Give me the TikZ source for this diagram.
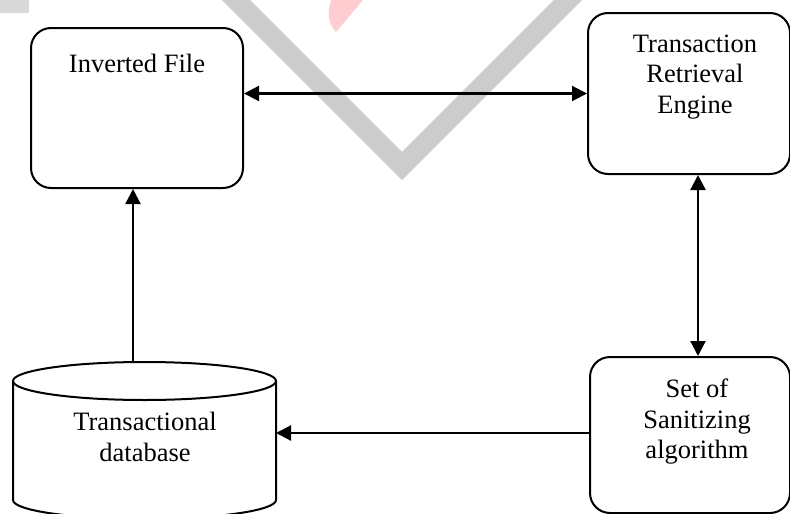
\documentclass[tikz,border=0pt]{standalone}
\usepackage{fontspec}
\setmainfont{Liberation Serif}
\usetikzlibrary{arrows.meta}
\definecolor{wmgray}{HTML}{CCCCCC}
\definecolor{wmlight}{HTML}{D9D9D9}
\definecolor{wmred}{HTML}{FFCCD0}
\begin{document}
\begin{tikzpicture}[x=1pt,y=-1pt,
  box/.style={draw, line width=2pt, rounded corners=20pt, inner sep=0pt},
  lbl/.style={font=\fontsize{26.5}{30.5}\selectfont, align=center, inner sep=0pt},
  tipa/.tip={Triangle[length=15pt,width=15pt]},
  conn/.style={line width=2.2pt, -tipa},
  dconn/.style={line width=2.2pt, tipa-tipa},
  outline/.style={line width=2pt}]
\useasboundingbox (0,0) rectangle (790,514);
% watermark
\fill[wmlight] (0,0) rectangle (29,13);
\draw[wmgray, line width=20pt, line join=miter] (226,-10) -- (402,166) -- (578,-10);
\fill[wmred] (331,0) -- (363,0) -- (336,32) .. controls (330,26) and (328,18) .. (329,8) -- cycle;
% boxes
\node[box, minimum width=212pt, minimum height=160pt] (inv) at (137,108) {};
\node[lbl] (invt) at (137,63) {Inverted File};
\node[box, minimum width=202pt, minimum height=161pt] (tre) at (689,93.5) {};
\node[lbl] (tret) at (695,77) {Transaction\\Retrieval\\Engine};
\node[box, minimum width=200pt, minimum height=156pt] (san) at (690,435) {};
\node[lbl] (sant) at (697,422) {Set of\\Sanitizing\\algorithm};
% cylinder
\draw[outline] (144.5,381) ellipse [x radius=131.5, y radius=19];
\draw[outline] (13,381) -- (13,500) arc[start angle=180, end angle=0, x radius=131.5, y radius=19] -- (276,381);
\node[lbl] (cylt) at (145,437) {Transactional\\database};
% connectors
\coordinate (vx) at (698,0);
\coordinate (cylright) at (276,433);
\coordinate (cyltop) at (133,362);
\draw[dconn] (inv.east |- tre.west) -- (tre.west);
\draw[dconn] (tre.south -| vx) -- (san.north -| vx);
\draw[conn] (san.west |- cylright) -- (cylright);
\draw[conn] (cyltop) -- (cyltop |- inv.south);
\end{tikzpicture}
\end{document}
